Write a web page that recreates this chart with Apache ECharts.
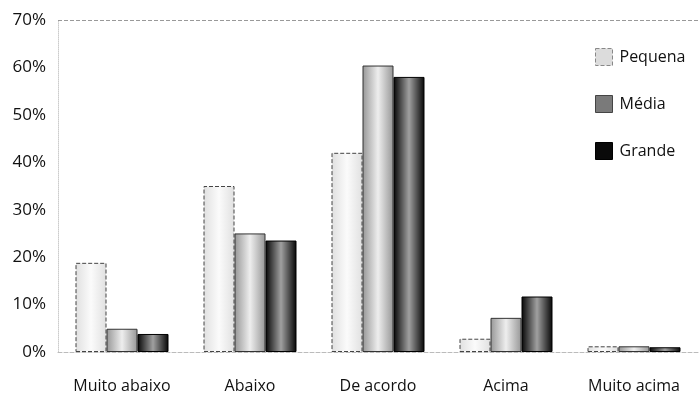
<!DOCTYPE html>
<html>
<head>
<meta charset="utf-8">
<script src="https://cdn.jsdelivr.net/npm/echarts@6/dist/echarts.min.js"></script>
<style>
  html, body { margin: 0; padding: 0; background: #fff; }
  #chart { width: 700px; height: 410px; }
</style>
</head>
<body>
<div id="chart"></div>
<script>
// Categories and percentage shares per company size
const categories = ['Muito abaixo', 'Abaixo', 'De acordo', 'Acima', 'Muito acima'];
const pequena = [18.8, 35, 42, 2.8, 1.2];
const media   = [4.9, 25, 60.4, 7.2, 1.2];
const grande  = [3.8, 23.5, 58, 11.7, 1.0];
const yTicks  = [0, 10, 20, 30, 40, 50, 60, 70];

const FONT = '"Open Sans", "Noto Sans", sans-serif';

function hGrad(edge, mid) {
  return new echarts.graphic.LinearGradient(0, 0, 1, 0, [
    { offset: 0, color: edge },
    { offset: 0.5, color: mid },
    { offset: 1, color: edge }
  ]);
}

const chart = echarts.init(document.getElementById('chart'), null, { renderer: 'canvas' });

const barBase = {
  type: 'bar',
  barWidth: 31,
  barGap: '0%'
};

chart.setOption({
  animation: false,
  backgroundColor: '#fff',
  grid: { left: 58, right: 2, top: 20, bottom: 58 },
  legend: {
    orient: 'vertical',
    left: 590,
    top: 43,
    itemWidth: 17,
    itemHeight: 17,
    itemGap: 29,
    textStyle: { fontFamily: FONT, fontSize: 16, color: '#111', padding: [0, 0, 0, 2] },
    data: [
      { name: 'Pequena', icon: 'rect', itemStyle: { color: '#dcdcdc', borderColor: '#888', borderWidth: 1, borderType: 'dashed' } },
      { name: 'Média', icon: 'rect', itemStyle: { color: '#7a7a7a', borderColor: '#444', borderWidth: 1 } },
      { name: 'Grande', icon: 'rect', itemStyle: { color: '#0a0a0a', borderColor: '#000', borderWidth: 1 } }
    ]
  },
  xAxis: {
    type: 'category',
    data: categories,
    axisLine: { show: true, lineStyle: { color: '#bbb', type: 'dashed', width: 1 } },
    axisTick: { show: false },
    axisLabel: { fontFamily: FONT, fontSize: 16, color: '#111', margin: 26 }
  },
  yAxis: {
    type: 'value',
    min: yTicks[0],
    max: yTicks[yTicks.length - 1],
    interval: 10,
    axisLine: { show: true, lineStyle: { color: '#ccc', type: 'dotted', width: 1 } },
    axisTick: { show: false },
    splitLine: { show: false },
    axisLabel: {
      fontFamily: FONT, fontSize: 17, color: '#111', margin: 12,
      formatter: v => v + '%'
    }
  },
  series: [
    Object.assign({}, barBase, {
      name: 'Pequena',
      data: pequena,
      itemStyle: { color: hGrad('#e0e0e0', '#fbfbfb'), borderColor: '#444', borderWidth: 1, borderType: 'dashed' },
      markLine: {
        silent: true,
        symbol: 'none',
        label: { show: false },
        lineStyle: { color: '#999', type: 'dashed', width: 1 },
        data: [{ yAxis: yTicks[yTicks.length - 1] }]
      }
    }),
    Object.assign({}, barBase, {
      name: 'Média',
      data: media,
      itemStyle: { color: hGrad('#969696', '#eeeeee'), borderColor: '#333', borderWidth: 1 }
    }),
    Object.assign({}, barBase, {
      name: 'Grande',
      data: grande,
      itemStyle: { color: hGrad('#050505', '#a0a0a0'), borderColor: '#000', borderWidth: 1 }
    })
  ]
});
</script>
</body>
</html>
